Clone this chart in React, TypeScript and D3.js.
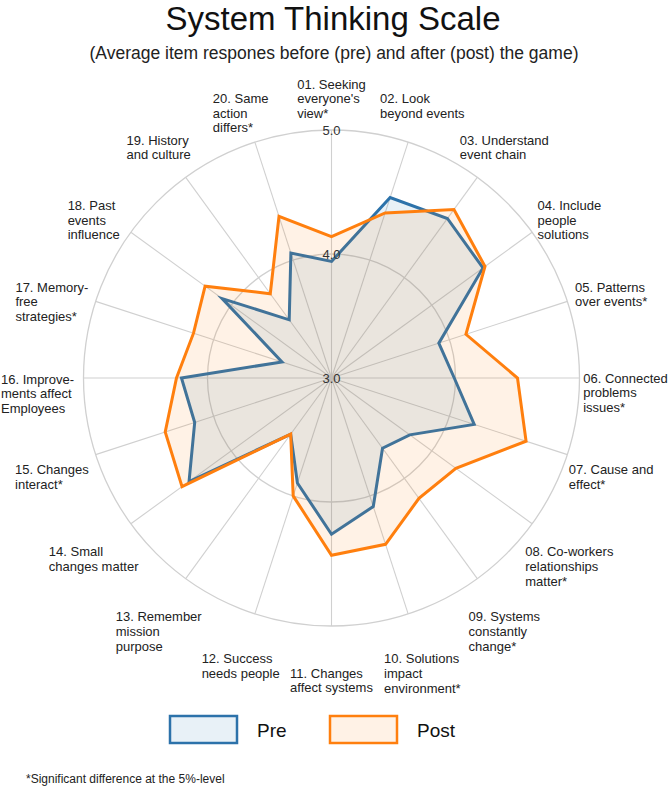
import React, { useEffect, useRef } from 'react';
import * as d3 from 'd3';

const W = 669;
const H = 788;

// item labels, one entry per line of the wrapped label
const itemLabels: string[][] = [
  ['01. Seeking', "everyone's", 'view*'],
  ['02. Look', 'beyond events'],
  ['03. Understand', 'event chain'],
  ['04. Include', 'people', 'solutions'],
  ['05. Patterns', 'over events*'],
  ['06. Connected', 'problems', 'issues*'],
  ['07. Cause and', 'effect*'],
  ['08. Co-workers', 'relationships', 'matter*'],
  ['09. Systems', 'constantly', 'change*'],
  ['10. Solutions', 'impact', 'environment*'],
  ['11. Changes', 'affect systems'],
  ['12. Success', 'needs people'],
  ['13. Remember', 'mission', 'purpose'],
  ['14. Small', 'changes matter'],
  ['15. Changes', 'interact*'],
  ['16. Improve-', 'ments affect', 'Employees'],
  ['17. Memory-', 'free', 'strategies*'],
  ['18. Past', 'events', 'influence'],
  ['19. History', 'and culture'],
  ['20. Same', 'action', 'differs*'],
];

const preValues = [3.94, 4.53, 4.59, 4.51, 3.91, 3.99, 4.21, 3.78, 3.70, 4.09, 4.26, 3.89, 3.56, 4.42, 4.16, 4.21, 3.42, 4.09, 3.58, 4.06];
const postValues = [4.14, 4.40, 4.68, 4.53, 4.14, 4.50, 4.65, 4.24, 4.20, 4.41, 4.43, 4.00, 3.56, 4.49, 4.41, 4.25, 4.17, 4.26, 3.84, 4.37];

const gridTicks = [3.0, 4.0, 5.0];
const seriesNames = ['Pre', 'Post'];

const FONT = '"Liberation Sans", Arial, sans-serif';

export default function App() {
  const svgRef = useRef<SVGSVGElement>(null);

  useEffect(() => {
    const svg = d3.select(svgRef.current);
    svg.selectAll('*').remove();

    const cx = 331.5;
    const cy = 378;
    const n = itemLabels.length;
    const r = d3.scaleLinear().domain([3, 5]).range([0, 248]);
    const angle = (i: number) => (i * 2 * Math.PI) / n;

    svg.append('rect').attr('width', W).attr('height', H).attr('fill', 'white');

    // title
    svg.append('text')
      .attr('x', 333).attr('y', 30)
      .attr('text-anchor', 'middle')
      .attr('font-size', 33)
      .attr('fill', '#111')
      .text('System Thinking Scale');
    svg.append('text')
      .attr('x', 334).attr('y', 59)
      .attr('text-anchor', 'middle')
      .attr('font-size', 17.5)
      .attr('fill', '#222')
      .text('(Average item respones before (pre) and after (post) the game)');

    const g = svg.append('g').attr('transform', `translate(${cx},${cy})`);

    // grid circles
    g.selectAll('circle.grid')
      .data(gridTicks.filter((d) => d > 3))
      .join('circle')
      .attr('class', 'grid')
      .attr('r', (d) => r(d))
      .attr('fill', 'none')
      .attr('stroke', '#d0d0d0')
      .attr('stroke-width', 1.3);

    // spokes
    g.selectAll('line.spoke')
      .data(d3.range(n))
      .join('line')
      .attr('class', 'spoke')
      .attr('x1', 0).attr('y1', 0)
      .attr('x2', (i) => r(5) * Math.sin(angle(i)))
      .attr('y2', (i) => -r(5) * Math.cos(angle(i)))
      .attr('stroke', '#d0d0d0')
      .attr('stroke-width', 1.1);

    const radar = d3.lineRadial<number>()
      .angle((_, i) => angle(i))
      .radius((d) => r(d))
      .curve(d3.curveLinearClosed);

    const series = [
      { values: preValues, stroke: '#2c72aa', fill: '#1f77b4' },
      { values: postValues, stroke: '#ff7f0e', fill: '#ff7f0e' },
    ];

    series.forEach((s) => {
      g.append('path')
        .attr('d', radar(s.values))
        .attr('fill', s.fill)
        .attr('fill-opacity', 0.1)
        .attr('stroke', s.stroke)
        .attr('stroke-width', 3)
        .attr('stroke-linejoin', 'miter');
    });

    // tick labels
    g.selectAll('text.tick')
      .data(gridTicks)
      .join('text')
      .attr('class', 'tick')
      .attr('x', 0)
      .attr('y', (d) => -r(d) + 5)
      .attr('text-anchor', 'middle')
      .attr('font-size', 13)
      .attr('fill', '#333')
      .text((d) => d.toFixed(1));

    // item labels: first line sits on the label ring, lines left-aligned, block centred horizontally
    const lineH = 14.7;
    const labelR = 294;
    itemLabels.forEach((lines, i) => {
      const a = angle(i);
      const bx = labelR * Math.sin(a);
      const by = -labelR * Math.cos(a) + (Math.cos(a) < 0 ? 1 : 0);
      const t = g.append('text')
        .attr('font-size', 13)
        .attr('fill', '#222');
      lines.forEach((ln, k) => {
        t.append('tspan')
          .attr('y', by + k * lineH + 4.6)
          .text(ln);
      });
      const w = d3.max(t.selectAll<SVGTSpanElement, unknown>('tspan').nodes(), (nd) => nd.getComputedTextLength()) || 0;
      t.selectAll('tspan').attr('x', bx - w / 2);
    });

    // legend
    const legendX = d3.scaleOrdinal<string, number>().domain(seriesNames).range([170, 330]);
    const leg = svg.append('g');
    seriesNames.forEach((name, i) => {
      const s = series[i];
      const x0 = legendX(name);
      leg.append('rect')
        .attr('x', x0).attr('y', 716)
        .attr('width', 67).attr('height', 27)
        .attr('fill', 'white');
      leg.append('rect')
        .attr('x', x0).attr('y', 716)
        .attr('width', 67).attr('height', 27)
        .attr('fill', s.fill).attr('fill-opacity', 0.1)
        .attr('stroke', s.stroke).attr('stroke-width', 2.5);
      leg.append('text')
        .attr('x', x0 + 87).attr('y', 737)
        .attr('font-size', 19)
        .attr('fill', '#111')
        .text(name);
    });

    svg.append('text')
      .attr('x', 26).attr('y', 783)
      .attr('font-size', 12)
      .attr('fill', '#222')
      .text('*Significant difference at the 5%-level');
  }, []);

  return (
    <div style={{ position: 'absolute', left: 0, top: 0 }}>
      <svg ref={svgRef} width={W} height={H} style={{ display: 'block', fontFamily: FONT }} />
    </div>
  );
}
